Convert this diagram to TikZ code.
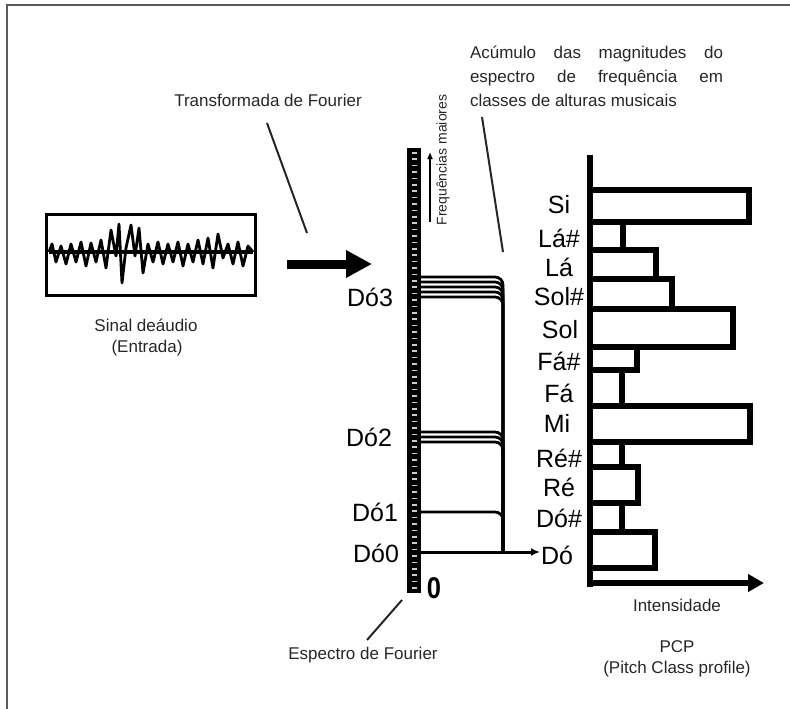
\documentclass[tikz,border=0pt]{standalone}
\usepackage{fontspec}
\setmainfont{Liberation Sans}
\usetikzlibrary{arrows.meta}
\begin{document}
\begin{tikzpicture}[x=1pt,y=-1pt,
  small/.style={font=\fontsize{17}{20}\selectfont, text=black!85, inner sep=0pt},
  note/.style={font=\fontsize{25}{28}\selectfont, inner sep=0pt},
  bar/.style={line width=5.5pt},
  hl/.style={line width=2.8pt, rounded corners=8pt},
  pointer/.style={line width=2pt, black!85}]
\useasboundingbox (0,0) rectangle (790,709);
% frame
\draw[line width=1.6pt, black!65] (790,5) -- (7,5) -- (7,709);

% audio signal
\node (sig) [draw, line width=3.5pt, minimum width=209pt, minimum height=81pt, inner sep=0pt] at (151,255) {};
\draw[line width=3.2pt] (49,252) -- (253,252);
\draw[line width=2.8pt, line join=round]
 (49,252) -- (52,244) -- (56,262) -- (61,246) -- (66,264) -- (71,244) -- (76,262) -- (81,242) -- (86,266) -- (91,243) -- (96,262) -- (101,240) -- (106,268) -- (111,230) -- (116,256) -- (119,224) -- (122,283) -- (126,248) -- (131,225) -- (135,256) -- (139,228) -- (143,273) -- (148,244) -- (153,262) -- (158,242) -- (163,264) -- (168,244) -- (173,262) -- (178,242) -- (183,266) -- (188,244) -- (193,262) -- (198,240) -- (203,264) -- (208,238) -- (213,268) -- (218,234) -- (223,258) -- (228,244) -- (233,264) -- (238,242) -- (243,266) -- (248,246) -- (253,252);
\node[small] (sigl) at (146,325) {Sinal deáudio};
\node[small] (sigl2) at (147,348) {(Entrada)};

% Fourier transform
\node[small] (tf) at (268,100) {Transformada de Fourier};
\coordinate (tfa) at (267,123);
\coordinate (tfb) at (307,233);
\draw[pointer] (tfa) -- (tfb);
\coordinate (ara) at (287,264);
\coordinate (arb) at (372,264);
\draw[line width=9pt, -{Triangle[length=26pt,width=26pt]}] (ara) -- (arb);

% spectrum column
\node (spec) [fill=black, minimum width=14pt, minimum height=445pt, inner sep=0pt] at (414,370.5) {};
\foreach \i in {0,...,68} \fill[white!80!black] (411.5,{152+\i*6.4}) rectangle (416.5,{153.6+\i*6.4});
\node[font=\bfseries\fontsize{30}{32}\selectfont, inner sep=0pt, xscale=0.85] (zero) at (434,588) {0};
\node[small] (espec) at (363,655) {Espectro de Fourier};
\coordinate (esa) at (367,640);
\coordinate (esb) at (402,600);
\draw[pointer] (esa) -- (esb);

% frequency arrow and label
\coordinate (fa) at (430,222);
\coordinate (fb) at (430,152);
\draw[line width=2.4pt, -{Latex[length=7pt,width=6pt]}] (fa) -- (fb);
\node[font=\fontsize{14}{16}\selectfont, text=black!85, rotate=90, inner sep=0pt] (fm) at (443,160) {Frequências maiores};

% octave labels
\node[note] (d3) at (370,297) {Dó3};
\node[note] (d2) at (369,437) {Dó2};
\node[note] (d1) at (375,512) {Dó1};
\node[note] (d0) at (376,553) {Dó0};

% accumulation lines
\coordinate (join) at (503,552);
\foreach \yy in {277,282,287,292,297} \draw[hl] (421,\yy) -| (join);
\foreach \yy in {432,437,442} \draw[hl] (421,\yy) -| (join);
\draw[hl] (421,512) -| (join);
\coordinate (dtip) at (540,552);
\draw[line width=3pt, -{Latex[length=9pt,width=8pt]}] (421,552) -- (dtip);

% explanation text
\node[small, align=left, font=\fontsize{17}{24}\selectfont] (acc) at (596.5,76)
 {\makebox[253pt][s]{Acúmulo das magnitudes do}\\
  \makebox[253pt][s]{espectro de frequência em}\\
  \makebox[253pt][l]{classes de alturas musicais}};
\coordinate (aca) at (482,117);
\coordinate (acb) at (503,252);
\draw[pointer] (aca) -- (acb);

% PCP chart
\draw[bar] (590,190) rectangle (749,222);
\draw[bar] (590,222) rectangle (623,250);
\draw[bar] (590,250) rectangle (656,279);
\draw[bar] (590,279) rectangle (672,309);
\draw[bar] (590,309) rectangle (733,347);
\draw[bar] (590,347) rectangle (637,370);
\draw[bar] (590,370) rectangle (622,406);
\draw[bar] (590,406) rectangle (750,442);
\draw[bar] (590,442) rectangle (622,467);
\draw[bar] (590,467) rectangle (638,503);
\draw[bar] (590,503) rectangle (622,532);
\draw[bar] (590,532) rectangle (655,568);
\coordinate (ytop) at (590,155);
\coordinate (orig) at (590,587);
\draw[line width=5.5pt] (ytop) -- (orig);
\coordinate (xo) at (588,583);
\coordinate (xend) at (764,583);
\draw[line width=5.5pt, -{Triangle[length=16pt,width=17pt]}] (xo) -- (xend);

\node[note] (si) at (559,205) {Si};
\node[note] (las) at (559,238) {Lá\#};
\node[note] (la) at (559,267) {Lá};
\node[note] (sols) at (559,297) {Sol\#};
\node[note] (sol) at (560,330) {Sol};
\node[note] (fas) at (559,361) {Fá\#};
\node[note] (fa2) at (559,393) {Fá};
\node[note] (mi) at (557,423) {Mi};
\node[note] (res) at (559,458) {Ré\#};
\node[note] (re) at (559,487) {Ré};
\node[note] (dos) at (559,518) {Dó\#};
\node[note] (do) at (557,555) {Dó};

\node[small] (int) at (677,605) {Intensidade};
\node[small] (pcp) at (677,647) {PCP};
\node[small] (pcp2) at (677,669) {(Pitch Class profile)};
\end{tikzpicture}
\end{document}
